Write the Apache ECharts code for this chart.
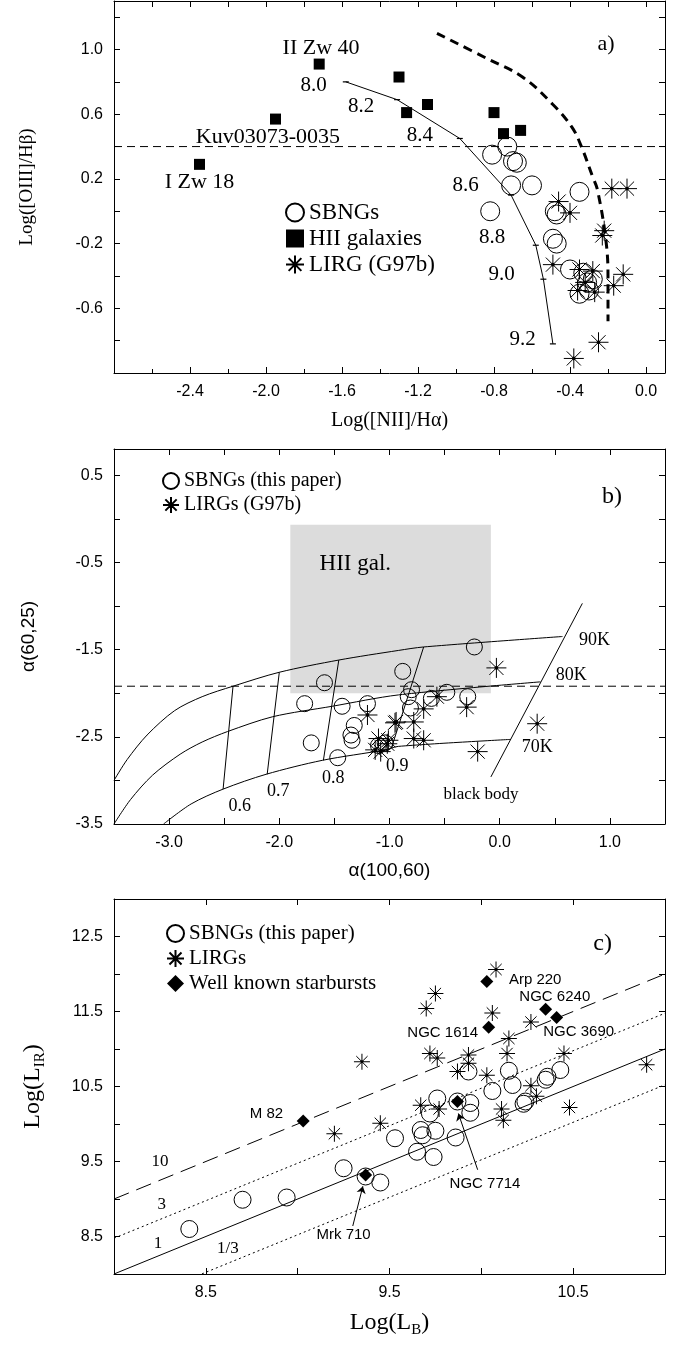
<!DOCTYPE html>
<html lang="en">
<head>
<meta charset="utf-8">
<title>BPT / IRAS colours / LIR-LB</title>
<script src="https://cdn.jsdelivr.net/npm/echarts@6/dist/echarts.min.js"></script>
<style>
  html, body { margin: 0; padding: 0; background: #fff; }
  #chart { width: 679px; height: 1345px; }
</style>
</head>
<body>
<div id="chart"></div>
<script>
// ---- panel a : log([OIII]/Hb) vs log([NII]/Ha)
var aSbng = [[-0.73,0.40],[-0.81,0.35],[-0.70,0.31],[-0.68,0.30],[-0.71,0.16],[-0.60,0.16],[-0.35,0.12],
  [-0.82,0.00],[-0.48,0.00],[-0.47,-0.02],[-0.49,-0.17],[-0.47,-0.20],[-0.40,-0.36],[-0.33,-0.38],
  [-0.28,-0.42],[-0.31,-0.44],[-0.35,-0.51],[-0.30,-0.49]];
var aHii = [[-1.72,0.91],[-1.30,0.83],[-1.95,0.57],[-2.35,0.29],[-1.26,0.61],[-1.15,0.66],
  [-0.80,0.61],[-0.75,0.48],[-0.66,0.50]];
var aLirg = [[-0.18,0.14],[-0.10,0.14],[-0.46,0.06],[-0.40,-0.01],[-0.22,-0.12],[-0.23,-0.15],
  [-0.49,-0.33],[-0.35,-0.36],[-0.28,-0.37],[-0.32,-0.44],[-0.36,-0.49],[-0.27,-0.50],
  [-0.17,-0.46],[-0.12,-0.39],[-0.25,-0.81],[-0.38,-0.91]];
var aModel = [[-1.58,0.80],[-1.31,0.69],[-0.98,0.45],[-0.71,0.10],[-0.58,-0.21],[-0.54,-0.42],[-0.49,-0.82]];
var aModelLabels = [[-1.75,0.78,'8.0'],[-1.50,0.65,'8.2'],[-1.19,0.47,'8.4'],[-0.95,0.16,'8.6'],
  [-0.81,-0.16,'8.8'],[-0.76,-0.39,'9.0'],[-0.65,-0.79,'9.2']];
var aDemarc = [[-1.10,1.10],[-0.83,0.94],[-0.65,0.83],[-0.49,0.66],[-0.39,0.52],[-0.34,0.40],
  [-0.28,0.21],[-0.255,0.13],[-0.21,-0.19],[-0.20,-0.42],[-0.20,-0.68]];
var aLimit = 0.4;
var aNames = [[-1.71,1.01,'II Zw 40'],[-1.99,0.46,'Kuv03073-0035'],[-2.35,0.18,'I Zw 18'],[-0.21,1.03,'a)']];

// ---- panel b : alpha(60,25) vs alpha(100,60)
var bSbng = [[-1.59,-1.88],[-1.77,-2.12],[-1.43,-2.15],[-1.20,-2.12],[-1.32,-2.37],[-1.35,-2.48],
  [-1.34,-2.54],[-1.71,-2.57],[-1.47,-2.74],[-1.10,-2.60],[-0.88,-1.75],[-0.23,-1.47],[-0.80,-1.96],
  [-0.83,-2.04],[-0.48,-1.99],[-0.62,-2.06],[-0.29,-2.04],[-0.81,-2.17],[-1.04,-2.57]];
var bLirg = [[-1.20,-2.25],[-0.95,-2.34],[-1.10,-2.52],[-1.02,-2.58],[-1.13,-2.65],[-1.08,-2.67],
  [-0.03,-1.71],[-0.57,-2.04],[-0.69,-2.18],[-0.30,-2.16],[-0.94,-2.33],[-0.78,-2.33],[-0.78,-2.52],
  [-0.69,-2.54],[-1.01,-2.54],[-0.20,-2.67],[0.34,-2.35]];
var bCurveTop = [[-3.5,-3.0],[-3.38,-2.76],[-3.2,-2.48],[-2.95,-2.2],[-2.7,-2.04],[-2.42,-1.92],
  [-2.0,-1.76],[-1.46,-1.62],[-0.92,-1.51],[-0.69,-1.47],[0.57,-1.35]];
var bCurveMid = [[-3.5,-3.5],[-3.35,-3.22],[-3.15,-2.94],[-2.9,-2.7],[-2.7,-2.56],[-2.47,-2.44],
  [-2.06,-2.27],[-1.52,-2.15],[-0.92,-2.02],[0.37,-1.87]];
var bCurveBot = [[-3.05,-3.5],[-2.8,-3.27],[-2.51,-3.1],[-2.12,-2.93],[-1.61,-2.77],[-1.04,-2.65],
  [-0.92,-2.61],[0.10,-2.53]];
var bGrid = [
  [[-2.42,-1.92],[-2.51,-3.10]],
  [[-2.00,-1.76],[-2.11,-2.93]],
  [[-1.46,-1.62],[-1.60,-2.77]],
  [[-0.69,-1.47],[-0.98,-2.62]]
];
var bBlackBody = [[-0.08,-2.96],[0.75,-0.97]];
var bHiiBox = [-1.90, -2.00, -0.08, -0.07];
var bLimit = -1.92;
var bLabels = [[-2.36,-3.30,'0.6'],[-2.01,-3.13,'0.7'],[-1.51,-2.97,'0.8'],[-0.93,-2.84,'0.9'],
  [0.86,-1.39,'90K'],[0.65,-1.80,'80K'],[0.34,-2.62,'70K']];
var bSmall = [[-0.17,-3.16,'black body']];
var bBoxLabel = [[-1.31,-0.52,'HII gal.']];
var bTag = [[1.02,0.25,'b)']];

// ---- panel c : log L_IR vs log L_B
var cSbng = [[8.41,8.60],[8.70,8.99],[8.94,9.02],[9.25,9.41],[9.37,9.30],[9.45,9.22],[9.53,9.81],
  [9.65,9.63],[9.74,9.56],[9.67,9.92],[9.68,9.85],[9.75,9.91],[9.86,9.82],[9.72,10.14],[9.76,10.34],
  [9.87,10.30],[9.94,10.28],[9.94,10.15],[10.06,10.44],[10.17,10.52],[10.23,10.27],[10.24,10.30],
  [10.35,10.59],[9.93,10.70],[10.15,10.71],[10.36,10.63],[10.43,10.72]];
var cLirg = [[9.35,10.83],[10.08,12.06],[9.75,11.74],[9.70,11.54],[10.06,11.48],[10.27,11.36],
  [10.15,11.14],[9.72,10.94],[9.76,10.88],[9.93,10.92],[10.14,10.94],[10.45,10.94],[9.87,10.70],
  [10.03,10.65],[10.27,10.51],[10.90,10.79],[9.93,10.81],[9.67,10.25],[9.77,10.20],[10.11,10.20],
  [10.12,10.05],[10.30,10.37],[10.48,10.22],[9.45,10.01],[9.20,9.87]];
var cStarbursts = [[10.03,11.90],[10.35,11.53],[10.41,11.42],[10.04,11.29],[9.03,10.04],[9.37,9.32],[9.87,10.30]];
var cNames = [[10.40,11.69,'NGC 6240'],[10.53,11.23,'NGC 3690'],[9.79,11.22,'NGC 1614'],
  [8.83,10.14,'M 82'],[9.25,8.52,'Mrk 710'],[10.02,9.20,'NGC 7714']];
var cNamesLeft = [[10.15,11.92,'Arp 220']];
var cArrows = [[[9.30,8.64],[9.355,9.17]],[[9.98,9.39],[9.875,10.14]]];
var cRatios = [10, 3, 1, 1/3];
var cRatioLabels = [[8.25,9.50,'10'],[8.26,8.92,'3'],[8.24,8.41,'1'],[8.62,8.34,'1/3']];
var cTag = [[10.66,12.41,'c)']];

var serif = '"Liberation Serif", "Times New Roman", serif';
var sans = '"Liberation Sans", Arial, sans-serif';
var STAR = 'path://M0,-10L0,10M-10,0L10,0M-7.07,-7.07L7.07,7.07M-7.07,7.07L7.07,-7.07M-1.4,0A1.4,1.4,0,1,0,1.4,0A1.4,1.4,0,1,0,-1.4,0Z';

var chart = echarts.init(document.getElementById('chart'), null, {renderer: 'canvas'});

function fmt1(v) { return Math.abs(v) < 1e-9 ? '0.0' : v.toFixed(1); }

function axis(dim, gi, min, max, interval, minor, labelFn, extra) {
  var a = {
    type: 'value', gridIndex: gi, min: min, max: max, interval: interval,
    axisLine: {onZero: false, lineStyle: {color: '#000', width: 1}},
    axisTick: {inside: true, length: 6, lineStyle: {color: '#000'}},
    minorTick: {show: minor > 0, splitNumber: minor || 5, length: 4, lineStyle: {color: '#000'}},
    splitLine: {show: false},
    axisLabel: labelFn ? {show: true, formatter: labelFn, color: '#000', fontFamily: sans, fontSize: 16, margin: 11}
                       : {show: false}
  };
  for (var k in extra) a[k] = extra[k];
  return a;
}

function pts(name, gi, data, sym, size, style, z) {
  style.opacity = 1;
  return {name: name, type: 'scatter', xAxisIndex: 2 * gi, yAxisIndex: 2 * gi, data: data,
    symbol: sym, symbolSize: size, itemStyle: style, z: z || 3, silent: true};
}
function OPEN() { return {color: 'rgba(255,255,255,0)', borderColor: '#000', borderWidth: 1}; }
function STARSTYLE() { return {color: '#000', borderColor: '#000', borderWidth: 1}; }

function curve(gi, data, ls, extra) {
  var s = {type: 'line', xAxisIndex: 2 * gi, yAxisIndex: 2 * gi, data: data, showSymbol: false,
    symbol: 'none', lineStyle: ls || {color: '#000', width: 1}, silent: true, z: 2};
  for (var k in extra) s[k] = extra[k];
  return s;
}

function texts(gi, data, font, size, align) {
  return {type: 'scatter', xAxisIndex: 2 * gi, yAxisIndex: 2 * gi, symbolSize: 1, silent: true, z: 6,
    itemStyle: {color: 'rgba(0,0,0,0)', opacity: 1},
    data: data.map(function (d) { return {value: [d[0], d[1]], name: d[2]}; }),
    label: {show: true, position: 'inside', formatter: function (p) { return p.name; }, opacity: 1,
      color: '#000', fontFamily: font, fontSize: size, align: align || 'center'}};
}

var series = [];
// panel a
series.push(curve(0, aDemarc, {color: '#000', width: 3, type: [9, 6]}, {smooth: 0.4}));
series.push(curve(0, aModel, {color: '#000', width: 1}, {showSymbol: true, symbol: 'rect', symbolSize: [6, 1.2],
  itemStyle: {color: '#000'}}));
series.push(curve(0, [[-2.8, aLimit], [0.1, aLimit]], {color: '#000', width: 1, type: [8, 5]}));
series.push(pts('SBNGs', 0, aSbng, 'circle', 19, OPEN()));
series.push(pts('HII galaxies', 0, aHii, 'rect', 11, {color: '#000'}));
series.push(pts('LIRG (G97b)', 0, aLirg, STAR, 20, STARSTYLE(), 4));
series.push(texts(0, aModelLabels, serif, 21));
series.push(texts(0, aNames, serif, 22));

// panel b
series.push(curve(1, [[-3.5, bLimit], [1.5, bLimit]], {color: '#000', width: 1, type: [8, 5]}, {
  z: 1,
  markArea: {silent: true, itemStyle: {color: '#dcdcdc'},
    data: [[{coord: [bHiiBox[0], bHiiBox[1]]}, {coord: [bHiiBox[2], bHiiBox[3]]}]]}
}));
series.push(curve(1, bCurveTop, null, {smooth: 0.3}));
series.push(curve(1, bCurveMid, null, {smooth: 0.3}));
series.push(curve(1, bCurveBot, null, {smooth: 0.3}));
bGrid.forEach(function (g) { series.push(curve(1, g)); });
series.push(curve(1, bBlackBody));
series.push(pts('SBNGs (this paper)', 1, bSbng, 'circle', 16, OPEN()));
series.push(pts('LIRGs (G97b)', 1, bLirg, STAR, 20, STARSTYLE(), 4));
series.push(texts(1, bLabels, serif, 18));
series.push(texts(1, bSmall, serif, 17));
series.push(texts(1, bBoxLabel, serif, 23));
series.push(texts(1, bTag, serif, 24));

// panel c
var ratioStyles = [
  {color: '#000', width: 1, type: [16, 8]},
  {color: '#000', width: 1, type: [2, 3]},
  {color: '#000', width: 1},
  {color: '#000', width: 1, type: [2, 3]}
];
cRatios.forEach(function (r, i) {
  var off = Math.log10(r);
  series.push(curve(2, [[8, 8 + off], [11, 11 + off]], ratioStyles[i]));
});
series.push(pts('SBNGs (this paper)', 2, cSbng, 'circle', 17, OPEN()));
series.push(pts('LIRGs', 2, cLirg, STAR, 16, STARSTYLE(), 4));
series.push(pts('Well known starbursts', 2, cStarbursts, 'diamond', 13, {color: '#000'}, 5));
series.push({type: 'lines', coordinateSystem: 'cartesian2d', xAxisIndex: 4, yAxisIndex: 4, silent: true, z: 5,
  symbol: ['none', 'arrow'], symbolSize: 7,
  lineStyle: {color: '#000', width: 1, opacity: 1},
  data: cArrows.map(function (c) { return {coords: c}; })});
series.push(texts(2, cNames, sans, 15));
series.push(texts(2, cNamesLeft, sans, 15, 'left'));
series.push(texts(2, cRatioLabels, serif, 17));
series.push(texts(2, cTag, serif, 24));

var option = {
  animation: false,
  backgroundColor: '#fff',
  grid: [
    {left: 114, width: 551, top: 1, height: 372},
    {left: 114, width: 551, top: 449, height: 375},
    {left: 114, width: 551, top: 899, height: 375}
  ],
  legend: [
    {data: ['SBNGs', 'HII galaxies', 'LIRG (G97b)'], orient: 'vertical', left: 280, top: 196,
      itemWidth: 18, itemHeight: 18, itemGap: 3, itemTextGap: 10, selectedMode: false,
      textStyle: {fontFamily: serif, fontSize: 23, color: '#000'}},
    {data: ['SBNGs (this paper)', 'LIRGs (G97b)'], orient: 'vertical', left: 157, top: 466,
      itemWidth: 16, itemHeight: 16, itemGap: 4, itemTextGap: 6, selectedMode: false,
      textStyle: {fontFamily: serif, fontSize: 20, color: '#000'}},
    {data: ['SBNGs (this paper)', 'LIRGs', 'Well known starbursts'], orient: 'vertical', left: 161, top: 918,
      itemWidth: 17, itemHeight: 17, itemGap: 4, itemTextGap: 3, selectedMode: false,
      textStyle: {fontFamily: serif, fontSize: 21, color: '#000'}}
  ],
  xAxis: [
    axis('x', 0, -2.8, 0.1, 0.4, 2, function (v) { return (v > -2.7 && v < 0.05) ? fmt1(v) : ''; }, {
      name: 'Log([NII]/H\u03b1)', nameLocation: 'middle', nameGap: 38,
      nameTextStyle: {fontFamily: serif, fontSize: 20, color: '#000'}}),
    axis('x', 0, -2.8, 0.1, 0.2, 0, null, {position: 'top'}),
    axis('x', 1, -3.5, 1.5, 0.5, 0, function (v) { return Math.abs(v - Math.round(v)) < 1e-6 ? fmt1(v) : ''; }, {
      name: '\u03b1(100,60)', nameLocation: 'middle', nameGap: 37,
      nameTextStyle: {fontFamily: sans, fontSize: 19, color: '#000'}}),
    axis('x', 1, -3.5, 1.5, 0.5, 0, null, {position: 'top'}),
    axis('x', 2, 8, 11, 0.5, 0, function (v) { return Math.abs(v - Math.round(v)) > 0.4 ? v.toFixed(1) : ''; }, {
      name: '{n|Log(L}{s|B}{n|)}', nameLocation: 'middle', nameGap: 34,
      nameTextStyle: {color: '#000', rich: {
        n: {fontFamily: serif, fontSize: 24, lineHeight: 30, color: '#000'},
        s: {fontFamily: serif, fontSize: 15, lineHeight: 30, verticalAlign: 'bottom', color: '#000'}}}}),
    axis('x', 2, 8, 11, 0.5, 0, null, {position: 'top'})
  ],
  yAxis: [
    axis('y', 0, -1.0, 1.3, 0.2, 0, function (v) {
      var k = Math.round((v + 1) * 10);
      return (k % 4 === 0 && v > -0.9 && v < 1.1) ? fmt1(v) : '';
    }, {name: 'Log([OIII]/H\u03b2)', nameLocation: 'middle', nameGap: 77,
      nameTextStyle: {fontFamily: serif, fontSize: 19, color: '#000'}}),
    axis('y', 0, -1.0, 1.3, 0.2, 0, null, {position: 'right'}),
    axis('y', 1, -3.5, 0.8, 0.5, 0, function (v) {
      var k = Math.round(v * 2);
      return (Math.abs(k % 2) === 1 && v < 0.7) ? fmt1(v) : '';
    }, {name: '\u03b1(60,25)', nameLocation: 'middle', nameGap: 76,
      nameTextStyle: {fontFamily: sans, fontSize: 19, color: '#000'}}),
    axis('y', 1, -3.5, 0.8, 0.5, 0, null, {position: 'right'}),
    axis('y', 2, 8, 13, 0.5, 0, function (v) {
      return (Math.abs(v - Math.round(v)) > 0.4) ? v.toFixed(1) : '';
    }, {name: '{n|Log(L}{s|IR}{n|)}', nameLocation: 'middle', nameGap: 66,
      nameTextStyle: {color: '#000', rich: {
        n: {fontFamily: serif, fontSize: 24, lineHeight: 30, color: '#000'},
        s: {fontFamily: serif, fontSize: 15, lineHeight: 30, verticalAlign: 'bottom', color: '#000'}}}}),
    axis('y', 2, 8, 13, 0.5, 0, null, {position: 'right'})
  ],
  series: series
};
chart.setOption(option);
</script>
</body>
</html>
